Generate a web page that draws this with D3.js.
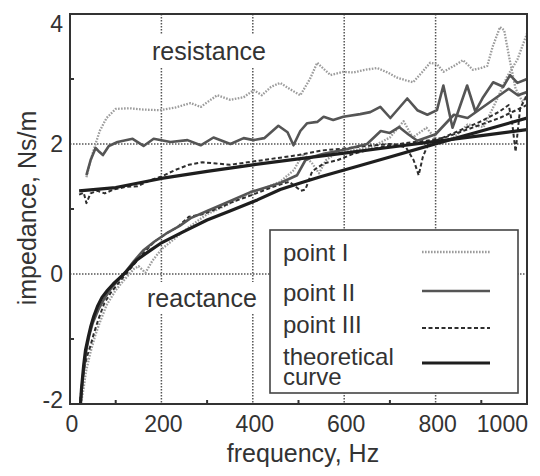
<!DOCTYPE html>
<html>
<head>
<meta charset="utf-8">
<script src="https://cdn.jsdelivr.net/npm/d3@7"></script>
<style>
  body { margin: 0; background: #fff; }
  text { font-family: "Liberation Sans", Arial, Helvetica, sans-serif; fill: #333; }
</style>
</head>
<body>
<div class="chart"></div>
<script>
// tick labels
var xTicks = [0, 200, 400, 600, 800, 1000];
var yTicks = [-2, 0, 2, 4];
var xMinor = [100, 300, 500, 700, 900];
var yMinor = [-1, 1, 3];

// resistance, point I
var fR1 = [36, 45, 55, 65, 80, 100, 130, 160, 197, 230, 264, 286, 322, 351, 380, 402, 420, 440, 460, 480, 504, 525, 541, 556, 570, 598, 620, 645, 672, 695, 716, 735, 751, 770, 788, 803, 817, 840, 860, 882, 900, 913, 925, 941, 950, 962, 975, 990, 1000];
var vR1 = [1.49, 1.75, 1.98, 2.2, 2.4, 2.54, 2.55, 2.53, 2.52, 2.56, 2.63, 2.57, 2.75, 2.68, 2.72, 2.83, 2.75, 2.88, 2.94, 2.85, 2.75, 3.0, 3.25, 3.15, 3.06, 3.11, 3.1, 3.14, 3.17, 3.1, 3.02, 2.98, 2.95, 3.1, 3.25, 3.23, 3.11, 3.2, 3.29, 3.14, 3.17, 3.2, 3.5, 3.8, 3.75, 3.3, 2.85, 2.65, 2.75];

// resistance, point II
var fR2 = [36, 45, 56, 64, 72, 85, 104, 137, 161, 183, 220, 257, 286, 314, 351, 380, 402, 425, 456, 476, 489, 504, 519, 541, 555, 576, 598, 635, 657, 679, 701, 738, 760, 782, 803, 817, 837, 869, 887, 904, 926, 948, 963, 979, 1000];
var vR2 = [1.52, 1.75, 1.94, 1.88, 1.83, 1.97, 2.03, 2.08, 1.97, 2.08, 2.03, 2.06, 1.98, 2.1, 2.0, 2.09, 2.06, 2.09, 2.28, 2.18, 1.98, 2.2, 2.32, 2.34, 2.42, 2.37, 2.42, 2.46, 2.49, 2.57, 2.4, 2.7, 2.52, 2.45, 2.52, 2.9, 2.25, 2.9, 2.5, 2.72, 2.95, 2.88, 3.06, 2.94, 3.0];

// resistance, point III
var fR3 = [20, 30, 36, 45, 60, 76, 95, 122, 148, 175, 200, 230, 260, 290, 320, 350, 400, 450, 500, 550, 600, 650, 700, 735, 752, 763, 772, 785, 800, 850, 900, 940, 960, 968, 975, 985, 1000];
var vR3 = [1.22, 1.25, 1.09, 1.24, 1.28, 1.24, 1.3, 1.34, 1.35, 1.44, 1.5, 1.6, 1.68, 1.72, 1.7, 1.68, 1.73, 1.78, 1.83, 1.9, 1.93, 1.97, 2.0, 1.95, 1.75, 1.52, 1.8, 2.02, 2.05, 2.2, 2.35, 2.5, 2.6, 2.3, 1.88, 2.55, 2.75];

// resistance, theoretical
var fRT = [20, 100, 200, 300, 400, 500, 600, 700, 800, 900, 1000];
var vRT = [1.28, 1.33, 1.47, 1.58, 1.68, 1.77, 1.86, 1.95, 2.04, 2.13, 2.22];

// reactance, point I
var fX1 = [25, 30, 35, 45, 55, 65, 80, 100, 120, 140, 150, 165, 180, 200, 230, 260, 300, 340, 380, 420, 460, 490, 510, 530, 545, 560, 580, 620, 660, 700, 730, 750, 780, 810, 840, 870, 905, 934, 956, 979, 1000];
var vX1 = [-1.95, -1.75, -1.5, -1.2, -0.95, -0.75, -0.48, -0.25, -0.08, 0.08, 0.12, 0.02, 0.2, 0.38, 0.55, 0.72, 0.92, 1.05, 1.2, 1.3, 1.42, 1.6, 1.85, 1.7, 1.55, 1.75, 1.85, 1.9, 1.95, 2.1, 2.35, 2.1, 2.25, 2.0, 2.1, 2.3, 2.26, 2.68, 3.03, 3.3, 3.7];

// reactance, point II
var fX2 = [23, 28, 35, 42, 50, 62, 75, 90, 105, 120, 140, 160, 185, 210, 240, 264, 300, 337, 395, 460, 497, 515, 530, 555, 605, 650, 680, 700, 720, 740, 760, 780, 800, 840, 870, 900, 930, 960, 980, 1000];
var vX2 = [-1.98, -1.6, -1.2, -0.95, -0.75, -0.55, -0.38, -0.22, -0.1, 0.02, 0.2, 0.36, 0.5, 0.62, 0.74, 0.86, 0.97, 1.08, 1.26, 1.4, 1.52, 1.75, 1.8, 1.85, 1.92, 2.0, 2.2, 2.17, 2.26, 2.15, 2.05, 2.1, 2.15, 2.45, 2.4, 2.55, 2.7, 2.85, 2.75, 2.8];

// reactance, point III
var fX3 = [22, 26, 32, 38, 45, 52, 62, 75, 90, 105, 120, 140, 160, 185, 210, 235, 260, 290, 320, 360, 400, 440, 480, 505, 515, 530, 555, 585, 620, 660, 700, 740, 780, 820, 860, 900, 940, 970, 1000];
var vX3 = [-1.95, -1.7, -1.42, -1.25, -1.1, -0.92, -0.7, -0.45, -0.28, -0.15, -0.02, 0.15, 0.32, 0.5, 0.62, 0.72, 0.88, 0.92, 1.0, 1.12, 1.22, 1.33, 1.42, 1.28, 1.3, 1.58, 1.7, 1.75, 1.85, 1.92, 1.98, 2.02, 2.05, 2.1, 2.2, 2.3, 2.4, 2.5, 2.6];

// reactance, theoretical
var fXT = [23, 25, 30, 34, 40, 45, 52, 60, 70, 82, 95, 104, 118, 147, 175, 198, 242, 300, 350, 410, 460, 504, 550, 600, 635, 700, 803, 900, 1000];
var vXT = [-2.0, -1.78, -1.4, -1.17, -0.97, -0.82, -0.65, -0.5, -0.36, -0.25, -0.15, -0.09, 0.0, 0.22, 0.36, 0.47, 0.63, 0.83, 0.97, 1.14, 1.3, 1.4, 1.5, 1.6, 1.67, 1.8, 2.01, 2.2, 2.4];

var legendNames = ["point I", "point II", "point III", "theoretical"];

var w = 540, h = 476;
var padL = 70, padR = 527, padT = 14, padB = 404;

var x = d3.scaleLinear().domain([0, 1000]).range([padL, padR]);
var y = d3.scaleLinear().domain([-2, 4]).range([padB, padT]);

var styles = {
	p1: { stroke: "#9c9c9c", width: 2.3, dash: "1.6,1.4" },
	p2: { stroke: "#555", width: 2.6, dash: null },
	p3: { stroke: "#2e2e2e", width: 2, dash: "4,2.5" },
	th: { stroke: "#1e1e1e", width: 3.2, dash: null }
};

var series = [
	{ f: fR1, v: vR1, s: "p1" }, { f: fX1, v: vX1, s: "p1" },
	{ f: fR3, v: vR3, s: "p3" }, { f: fX3, v: vX3, s: "p3" },
	{ f: fR2, v: vR2, s: "p2" }, { f: fX2, v: vX2, s: "p2" },
	{ f: fRT, v: vRT, s: "th" }, { f: fXT, v: vXT, s: "th" }
];

var svg = d3.select(".chart").append("svg")
	.attr("width", w)
	.attr("height", h);

svg.append("clipPath").attr("id", "clip")
	.append("rect")
	.attr("x", padL).attr("y", padT)
	.attr("width", padR - padL).attr("height", padB - padT);

//网格线
var grid = svg.append("g").attr("stroke", "#555").attr("stroke-width", 1.5).attr("stroke-dasharray", "1.5,1.5");
grid.selectAll("line.gx")
	.data(xTicks.slice(1, -1))
	.enter().append("line")
	.attr("x1", d => x(d)).attr("x2", d => x(d))
	.attr("y1", padT).attr("y2", padB);
grid.selectAll("line.gy")
	.data([0, 2])
	.enter().append("line")
	.attr("x1", padL).attr("x2", padR)
	.attr("y1", d => y(d)).attr("y2", d => y(d));

// labels inside the plot, with white behind them
function boxLabel(txt, tx, ty) {
	var g = svg.append("g");
	var t = g.append("text")
		.attr("x", tx).attr("y", ty)
		.attr("font-size", 25)
		.text(txt);
	var b = t.node().getBBox();
	g.insert("rect", "text")
		.attr("x", b.x - 3).attr("y", b.y - 2)
		.attr("width", b.width + 6).attr("height", b.height + 4)
		.attr("fill", "#fff");
}
boxLabel("resistance", 152, 60);
boxLabel("reactance", 147, 307);

//曲线
var line = d3.line()
	.x(d => x(d[0]))
	.y(d => y(d[1]));

svg.append("g")
	.attr("clip-path", "url(#clip)")
	.selectAll("path")
	.data(series)
	.enter().append("path")
	.attr("d", d => line(d3.zip(d.f, d.v)))
	.attr("fill", "none")
	.attr("stroke", d => styles[d.s].stroke)
	.attr("stroke-width", d => styles[d.s].width)
	.attr("stroke-dasharray", d => styles[d.s].dash)
	.attr("stroke-linejoin", "round");

// frame
svg.append("rect")
	.attr("x", padL).attr("y", padT)
	.attr("width", padR - padL).attr("height", padB - padT)
	.attr("fill", "none")
	.attr("stroke", "#333")
	.attr("stroke-width", 2);

// minor ticks
svg.selectAll("line.mx")
	.data(xMinor)
	.enter().append("line")
	.attr("x1", d => x(d)).attr("x2", d => x(d))
	.attr("y1", padB).attr("y2", padB - 4)
	.attr("stroke", "#333").attr("stroke-width", 2);
svg.selectAll("line.my")
	.data(yMinor)
	.enter().append("line")
	.attr("x1", padL).attr("x2", padL + 4)
	.attr("y1", d => y(d)).attr("y2", d => y(d))
	.attr("stroke", "#333").attr("stroke-width", 2);

// tick labels
svg.selectAll("text.xt")
	.data(xTicks)
	.enter().append("text")
	.attr("x", d => d == 1000 ? x(d) + 1 : x(d) + 2)
	.attr("y", 432)
	.attr("text-anchor", d => d == 1000 ? "end" : "middle")
	.attr("font-size", 23)
	.text(d => d);

svg.selectAll("text.yt")
	.data(yTicks)
	.enter().append("text")
	.attr("x", 63)
	.attr("y", d => Math.min(Math.max(y(d), padT + 10), padB - 4) + 8)
	.attr("text-anchor", "end")
	.attr("font-size", 23)
	.text(d => d);

// axis titles
svg.append("text")
	.attr("x", 303).attr("y", 462)
	.attr("text-anchor", "middle")
	.attr("font-size", 25)
	.text("frequency, Hz");

svg.append("text")
	.attr("transform", "translate(36,208) rotate(-90)")
	.attr("text-anchor", "middle")
	.attr("font-size", 25)
	.text("impedance, Ns/m");

//图例
var lg = svg.append("g");
lg.append("rect")
	.attr("x", 270).attr("y", 230)
	.attr("width", 248).attr("height", 163)
	.attr("fill", "#fff")
	.attr("stroke", "#444")
	.attr("stroke-width", 1.6);

var legendText = [261, 301, 333, 365];
var legendLine = [252, 291, 328, 363];
var legendKeys = ["p1", "p2", "p3", "th"];

lg.selectAll("text.lt")
	.data(legendNames)
	.enter().append("text")
	.attr("x", 283)
	.attr("y", (d, i) => legendText[i])
	.attr("font-size", 24)
	.text(d => d);
lg.append("text")
	.attr("x", 283).attr("y", 385)
	.attr("font-size", 24)
	.text("curve");

lg.selectAll("line.ll")
	.data(legendKeys)
	.enter().append("line")
	.attr("x1", 422).attr("x2", 490)
	.attr("y1", (d, i) => legendLine[i]).attr("y2", (d, i) => legendLine[i])
	.attr("stroke", d => styles[d].stroke)
	.attr("stroke-width", d => styles[d].width)
	.attr("stroke-dasharray", d => styles[d].dash);
</script>
</body>
</html>
